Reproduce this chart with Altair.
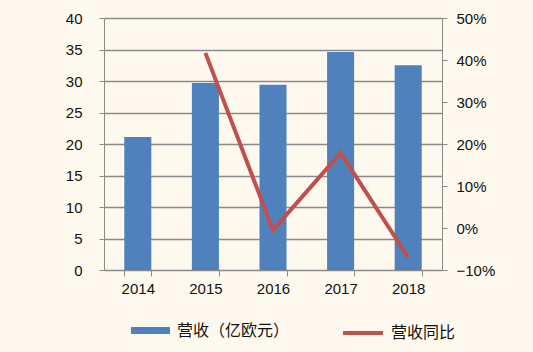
import altair as alt
import pandas as pd

years = ["2014", "2015", "2016", "2017", "2018"]
revenue = [21.1, 29.7, 29.4, 34.6, 32.5]
growth = [None, 0.417, -0.005, 0.179, -0.070]

bar_name = "营收（亿欧元）"
line_name = "营收同比"

df = pd.DataFrame({"year": years, "revenue": revenue, "growth": growth,
                   "s1": bar_name, "s2": line_name})

GRAY = "#8a8a8a"
BLUE = "#4F81BD"
RED = "#C0504D"
FONT = "Liberation Sans"
CJK = "Noto Sans CJK SC"

x = alt.X("year:N", title=None,
          scale=alt.Scale(paddingInner=0.6, paddingOuter=0.3),
          axis=alt.Axis(labelAngle=0, tickBand="extent", tickSize=6,
                        labelPadding=5, labelFontSize=15, labelFont=FONT,
                        labelColor="#111", domainColor=GRAY, tickColor=GRAY,
                        grid=False))

bars = alt.Chart(df).mark_bar(color=BLUE).encode(
    x=x,
    y=alt.Y("revenue:Q", title=None,
            scale=alt.Scale(domain=[0, 40]),
            axis=alt.Axis(values=list(range(0, 41, 5)), grid=True,
                          gridColor=GRAY, gridWidth=1.5, domainColor=GRAY,
                          tickColor=GRAY, tickSize=5, labelPadding=17,
                          labelFontSize=15, labelFont=FONT, labelColor="#111",
                          orient="left")),
    fill=alt.Fill("s1:N", title=None,
                  scale=alt.Scale(domain=[bar_name], range=[BLUE]),
                  legend=alt.Legend(orient="none", legendX=27, legendY=293,
                                    symbolType="M-1,-0.18L1,-0.18L1,0.18L-1,0.18Z",
                                    symbolSize=1521, symbolStrokeWidth=0,
                                    labelFont=CJK, labelFontSize=16,
                                    labelColor="#111", labelOffset=7)),
)

line = alt.Chart(df).transform_filter("datum.growth != null").mark_line(
    color=RED, strokeWidth=4).encode(
    x=x,
    y=alt.Y("growth:Q", title=None,
            scale=alt.Scale(domain=[-0.1, 0.5]),
            axis=alt.Axis(values=[-0.1, 0, 0.1, 0.2, 0.3, 0.4, 0.5],
                          format=".0%", grid=False, domainColor=GRAY,
                          tickColor=GRAY, tickSize=5, labelPadding=9,
                          labelFontSize=15, labelFont=FONT, labelColor="#111",
                          orient="right")),
    stroke=alt.Stroke("s2:N", title=None,
                      scale=alt.Scale(domain=[line_name], range=[RED]),
                      legend=alt.Legend(orient="none", legendX=237, legendY=293,
                                        symbolType="stroke", symbolSize=1600,
                                        symbolStrokeWidth=4,
                                        labelFont=CJK, labelFontSize=16,
                                        labelColor="#111", labelOffset=6)),
)

chart = alt.layer(bars, line).resolve_scale(
    y="independent", fill="independent", stroke="independent"
).properties(
    width=338, height=252,
    background="#FEF9EF",
    autosize=alt.AutoSizeParams(type="none"),
    padding={"left": 104, "top": 18, "right": 91, "bottom": 82},
).configure_view(stroke=None)

chart.save("out.html", embed_options={"renderer": "svg", "actions": False})
